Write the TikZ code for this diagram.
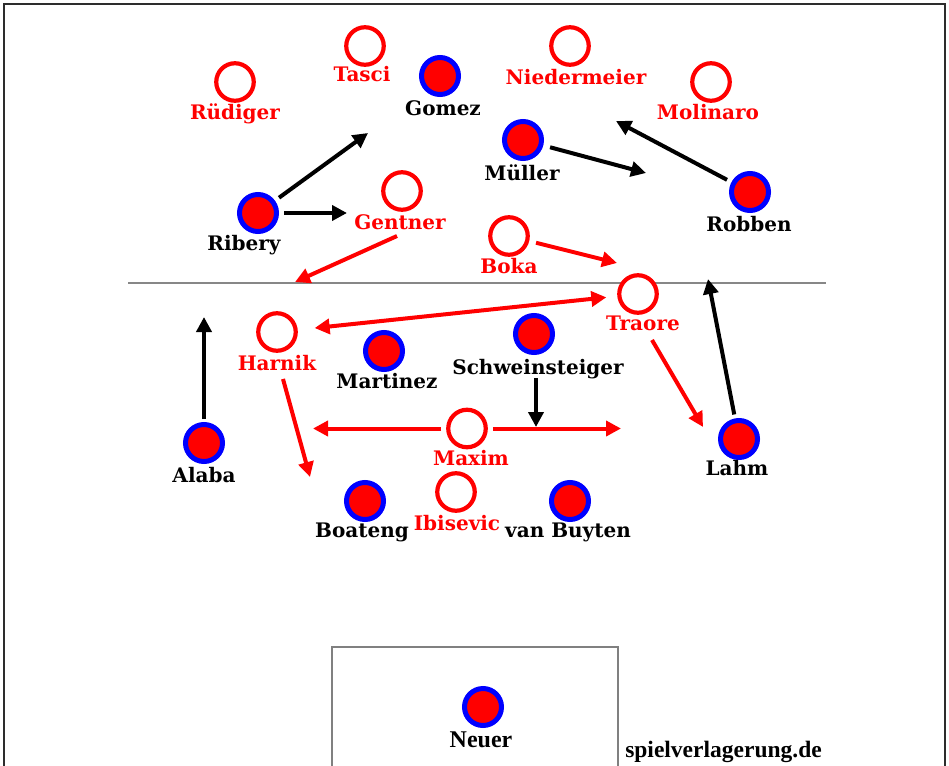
\documentclass[tikz,border=0pt]{standalone}
\usepackage{fontspec}
\setmainfont{DejaVu Serif}
\newfontfamily\timesfont{Liberation Serif}
\usetikzlibrary{arrows.meta}
\definecolor{pred}{RGB}{255,0,0}
\definecolor{pblue}{RGB}{0,0,255}
\definecolor{frame}{RGB}{45,45,45}
\definecolor{lineg}{RGB}{135,135,135}
\begin{document}
\begin{tikzpicture}[x=1pt,y=-1pt,
  opp/.style={circle,draw=pred,line width=4.2pt,minimum size=37.5pt,inner sep=0pt,fill=white},
  own/.style={circle,draw=pblue,fill=pred,line width=5pt,minimum size=37pt,inner sep=0pt},
  namefont/.style={font=\fontsize{20}{22}\selectfont\bfseries},
  oppname/.style={namefont,anchor=base,text=pred,inner sep=0pt},
  ownname/.style={namefont,anchor=base,text=black,inner sep=0pt},
  tip/.style={-{Triangle[length=15pt,width=15pt]}},
  blkarrow/.style={draw=black,line width=4pt,tip},
  redarrow/.style={draw=pred,line width=4pt,tip},
]
\clip (0,0) rectangle (949,765);
\fill[white] (0,0) rectangle (949,765);
% frame, halfway line, penalty box
\draw[frame,line width=1.6pt] (4,4) rectangle (945,790);
\draw[lineg,line width=2pt] (128,283) -- (826,283);
\draw[gray,line width=1.5pt] (332,790) -- (332,647) -- (618,647) -- (618,790);

% opponents
\node[opp] (ruediger) at (235,82) {};
\node[opp] (tasci) at (365,46) {};
\node[opp] (nieder) at (570,46) {};
\node[opp] (molinaro) at (711,82) {};
\node[opp] (gentner) at (402,191) {};
\node[opp] (boka) at (509,236) {};
\node[opp] (traore) at (638,294) {};
\node[opp] (harnik) at (277,332) {};
\node[opp] (maxim) at (467,428.5) {};
\node[opp] (ibisevic) at (456,492) {};
% own team
\node[own] (gomez) at (440,76) {};
\node[own] (mueller) at (523,140) {};
\node[own] (ribery) at (258,213) {};
\node[own] (robben) at (750,192) {};
\node[own] (martinez) at (384,351) {};
\node[own] (schweini) at (534,334) {};
\node[own] (alaba) at (204,443) {};
\node[own] (lahm) at (739,439) {};
\node[own] (boateng) at (365,501) {};
\node[own] (vanbuyten) at (570,501) {};
\node[own] (neuer) at (483,707) {};

% names
\node[oppname] (ruedigerL) at (235,120) {Rüdiger};
\node[oppname] (tasciL) at (362,82) {Tasci};
\node[oppname] (niederL) at (576,85) {Niedermeier};
\node[oppname] (molinaroL) at (708,120) {Molinaro};
\node[oppname] (gentnerL) at (400,229) {Gentner};
\node[oppname] (bokaL) at (509,273) {Boka};
\node[oppname] (traoreL) at (643,330) {Traore};
\node[oppname] (harnikL) at (277,370) {Harnik};
\node[oppname] (maximL) at (471,465) {Maxim};
\node[oppname] (ibisevicL) at (457,530) {Ibisevic};
\node[ownname] (gomezL) at (443,115) {Gomez};
\node[ownname] (muellerL) at (522,180) {Müller};
\node[ownname] (riberyL) at (244,250) {Ribery};
\node[ownname] (robbenL) at (749,231) {Robben};
\node[ownname] (martinezL) at (387,388) {Martinez};
\node[ownname] (schweiniL) at (538,374) {Schweinsteiger};
\node[ownname] (alabaL) at (204,482) {Alaba};
\node[ownname] (lahmL) at (737,475) {Lahm};
\node[ownname] (boatengL) at (362,537) {Boateng};
\node[ownname] (vanbuytenL) at (568,537) {van Buyten};
\node[anchor=base,inner sep=0pt,font=\timesfont\fontsize{24}{26}\selectfont\bfseries] (neuerL) at (481,747) {Neuer};
\node[anchor=base,inner sep=0pt,font=\timesfont\fontsize{23.5}{26}\selectfont\bfseries] (credit) at (723.5,757) {spielverlagerung.de};

% arrow end points
\coordinate (gomezT) at (368,133);
\coordinate (gentnerT) at (347,213);
\coordinate (muellerT) at (646,173);
\coordinate (robbenT) at (616,121);
\coordinate (alabaT) at (204,317);
\coordinate (lahmT) at (708,279);
\coordinate (schS) at (536,378);
\coordinate (schT) at (536,427);
\coordinate (gentS) at (397,236);
\coordinate (gentT) at (295,282);
\coordinate (bokaT) at (617,263);
\coordinate (harS) at (283,379);
\coordinate (harT) at (310,477);
\coordinate (maxLT) at (313,428.5);
\coordinate (maxRT) at (621,428.5);
\coordinate (traS) at (652,340);
\coordinate (traT) at (703,427);

% black arrows
\draw[blkarrow,shorten <=5pt] (ribery) -- (gomezT);
\draw[blkarrow,shorten <=5pt] (ribery) -- (gentnerT);
\draw[blkarrow,shorten <=7pt] (mueller) -- (muellerT);
\draw[blkarrow,shorten <=5pt] (robben) -- (robbenT);
\draw[blkarrow,shorten <=3pt] (alaba) -- (alabaT);
\draw[blkarrow,shorten <=4pt] (lahm) -- (lahmT);

% red arrows
\draw[redarrow] (gentS) -- (gentT);
\draw[redarrow,shorten <=7pt] (boka) -- (bokaT);
\draw[draw=pred,line width=4pt,{Triangle[length=15pt,width=15pt]}-{Triangle[length=15pt,width=15pt]},shorten <=17pt,shorten >=11pt] (harnik) -- (traore);
\draw[redarrow] (harS) -- (harT);
\draw[redarrow,shorten <=5pt] (maxim) -- (maxLT);
\draw[redarrow,shorten <=5pt] (maxim) -- (maxRT);
\draw[redarrow] (traS) -- (traT);
\draw[blkarrow] (schS) -- (schT);
\end{tikzpicture}
\end{document}
